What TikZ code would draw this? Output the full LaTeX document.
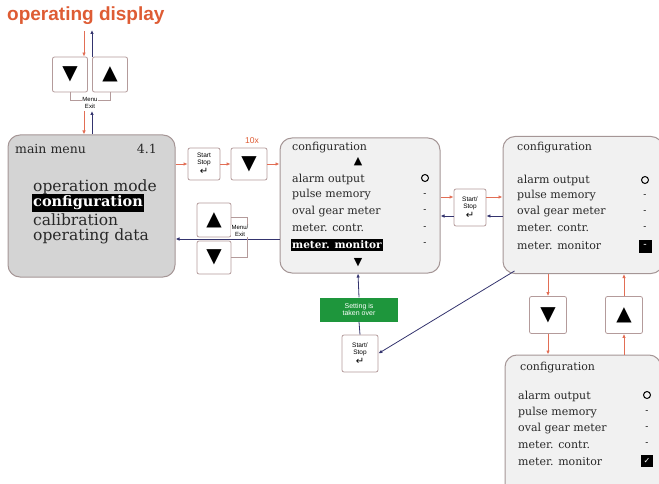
\documentclass[tikz,border=0pt]{standalone}
\usepackage{fontspec}
\setmainfont{DejaVu Serif}
\setsansfont{Liberation Sans}
\newfontfamily\symfont{DejaVu Sans}
\usetikzlibrary{arrows.meta}
\definecolor{dispred}{RGB}{222,92,52}
\definecolor{arrred}{RGB}{226,110,85}
\definecolor{arrblue}{RGB}{52,52,110}
\definecolor{panelgray}{RGB}{212,212,212}
\definecolor{panellight}{RGB}{241,241,241}
\definecolor{panelline}{RGB}{165,150,150}
\definecolor{keyline}{RGB}{180,155,155}
\definecolor{takegreen}{RGB}{30,150,60}
\definecolor{inktext}{RGB}{40,40,40}
\newcommand\dntri[1][20]{{\symfont\fontsize{#1}{#1}\selectfont ▼}}
\newcommand\uptri[1][20]{{\symfont\fontsize{#1}{#1}\selectfont ▲}}
\newcommand\enterkey{{\symfont\fontsize{10}{10}\selectfont ↵}}
\tikzset{
  panel/.style={draw=panelline, line width=1pt, rounded corners=12pt, fill=panellight},
  key/.style={draw=keyline, line width=0.8pt, rounded corners=2pt, fill=white,
    minimum width=35pt, minimum height=35pt, inner sep=0pt},
  startkey/.style={key, font=\sffamily\fontsize{6.5}{7}\selectfont, align=center},
  keytag/.style={fill=white, inner sep=0.5pt, align=center, font=\sffamily\fontsize{6}{6.5}\selectfont},
  item/.style={anchor=west, inner sep=0pt, text=inktext, font=\fontsize{11}{12}\selectfont},
  mainitem/.style={anchor=west, inner sep=0pt, text=inktext, font=\fontsize{15.5}{16}\selectfont},
  marked/.style={fill=black, text=white, inner sep=1.5pt},
  onoff/.style={circle, draw, line width=1pt, minimum size=7pt, inner sep=0pt},
  dashmark/.style={inner sep=0pt, font=\fontsize{9}{9}\selectfont},
  boxmark/.style={fill=black, text=white, minimum size=13pt, inner sep=0pt},
  fwd/.style={draw=arrred, line width=0.8pt, -{Latex[length=4pt,width=3.5pt]}},
  back/.style={draw=arrblue, line width=0.8pt, -{Latex[length=4pt,width=3.5pt]}}
}

\begin{document}
\begin{tikzpicture}[x=1pt,y=-1pt]
\useasboundingbox (0,0) rectangle (659,484);

% operating display and its keys
\node[anchor=west, inner sep=0pt, text=dispred, font=\sffamily\bfseries\fontsize{19}{19}\selectfont] (disp) at (7,16) {operating display};
\node[key] (tdn) at (70,74.5) {\dntri};
\node[key] (tup) at (110,74.5) {\uptri};
\draw[keyline, line width=0.8pt] (tdn.south) -- ++(0,8) -| (tup.south);
\node[keytag] (tmenu) at (90,103) {Menu\\Exit};
\coordinate (dispin) at (84,31);
\coordinate (dispout) at (92,30);
\coordinate (menuin) at (84,111);
\coordinate (menuout) at (92,111);
\draw[fwd] (dispin) -- (dispin |- tdn.north);
\draw[back] (tup.north -| dispout) -- (dispout);

% main menu
\node[panel, fill=panelgray, minimum width=167pt, minimum height=142pt] (mainmenu) at (91.5,206) {};
\draw[fwd] (menuin) -- (menuin |- mainmenu.north);
\draw[back] (menuout |- mainmenu.north) -- (menuout);
\node[item, font=\fontsize{12.5}{13}\selectfont] (mmtitle) at (15,149) {main menu};
\node[item, anchor=east, font=\fontsize{12.5}{13}\selectfont] (mmno) at (157,149) {4.1};
\node[mainitem] (mm1) at (33,187) {operation mode};
\node[mainitem, marked, font=\bfseries\fontsize{14.5}{16}\selectfont] (mm2) at (31.5,203) {configuration};
\node[mainitem] (mm3) at (33,220) {calibration};
\node[mainitem] (mm4) at (33,236) {operating data};

% into configuration
\node[startkey, minimum width=32pt, minimum height=32pt] (ss1) at (204,164) {Start\\Stop\\[1pt]\enterkey};
\node[key, minimum width=36pt, minimum height=32pt] (dn1) at (249,164) {\dntri};
\node[text=dispred, font=\sffamily\fontsize{8.5}{8.5}\selectfont] (times) at (252,141) {10x};

% configuration, selection
\node[panel, minimum width=160pt, minimum height=135pt] (cfg2) at (360,205.5) {};
\draw[fwd] (mainmenu.east |- ss1) -- (ss1.west);
\draw[fwd] (ss1) -- (dn1);
\draw[fwd] (dn1) -- (cfg2.west |- dn1);
\node[item] (c2t) at (292,148) {configuration};
\node[inner sep=0pt] (c2up) at (358,162) {\uptri[11]};
\node[item] (c21) at (292,179) {alarm output};
\node[item] (c22) at (292,195) {pulse memory};
\node[item] (c23) at (292,212) {oval gear meter};
\node[item] (c24) at (292,228) {meter. contr.};
\node[item, marked, font=\bfseries\fontsize{10.5}{12}\selectfont] (c25) at (290.5,245) {meter. monitor};
\node[onoff] (c2s1) at (425,178) {};
\node[dashmark] (c2s2) at (425,195) {-};
\node[dashmark] (c2s3) at (425,211) {-};
\node[dashmark] (c2s4) at (425,228) {-};
\node[dashmark] (c2s5) at (425,244) {-};
\node[inner sep=0pt] (c2dn) at (358,263) {\dntri[11]};

% back to main menu
\coordinate (cfgback) at (0,239);
\draw[back] (cfg2.west |- cfgback) -- (mainmenu.east |- cfgback);
\node[key, minimum width=34pt, minimum height=34pt] (up2) at (214,220) {\uptri};
\node[key, minimum width=34pt, minimum height=33pt] (dn2) at (214,257.5) {\dntri};
\draw[keyline, line width=0.8pt] (up2.east |- 0,217) -- (247,217) -- (247,257) -- (dn2.east |- 0,257);
\node[keytag] (smenu) at (240,231) {Menu/\\Exit};

% configuration, set value
\node[panel, minimum width=160pt, minimum height=137pt] (cfg3) at (583,205) {};
\node[startkey, minimum width=32pt, minimum height=37pt] (ss2) at (470,207.5) {Start/\\Stop\\[1pt]\enterkey};
\coordinate (setfwd) at (0,197);
\coordinate (setback) at (0,216);
\draw[fwd] (cfg2.east |- setfwd) -- (ss2.west |- setfwd);
\draw[fwd] (ss2.east |- setfwd) -- (cfg3.west |- setfwd);
\draw[back] (cfg3.west |- setback) -- (ss2.east |- setback);
\draw[back] (ss2.west |- setback) -- (cfg2.east |- setback);
\node[item] (c3t) at (517,148) {configuration};
\node[item] (c31) at (517,180) {alarm output};
\node[item] (c32) at (517,196) {pulse memory};
\node[item] (c33) at (517,212) {oval gear meter};
\node[item] (c34) at (517,228) {meter. contr.};
\node[item] (c35) at (517,246) {meter. monitor};
\node[onoff] (c3s1) at (645,180) {};
\node[dashmark] (c3s2) at (645,196) {-};
\node[dashmark] (c3s3) at (645,212) {-};
\node[dashmark] (c3s4) at (645,228) {-};
\node[boxmark] (c3s5) at (645,246) {-};

% keys between the two views
\node[key, minimum width=37pt, minimum height=37pt] (dn3) at (548,315) {\dntri};
\node[key, minimum width=37pt, minimum height=37pt] (up3) at (624,315) {\uptri};

% configuration, value changed
\node[panel, minimum width=156pt, minimum height=140pt] (cfg4) at (583,425) {};
\draw[fwd] (cfg3.south -| dn3) -- (dn3.north);
\draw[fwd] (dn3.south) -- (cfg4.north -| dn3);
\draw[fwd] (cfg4.north -| up3) -- (up3.south);
\draw[fwd] (up3.north) -- (cfg3.south -| up3);
\node[item] (c4t) at (520,368) {configuration};
\node[item] (c41) at (518,396) {alarm output};
\node[item] (c42) at (518,413) {pulse memory};
\node[item] (c43) at (518,429) {oval gear meter};
\node[item] (c44) at (518,445) {meter. contr.};
\node[item] (c45) at (518,462) {meter. monitor};
\node[onoff] (c4s1) at (647,395) {};
\node[dashmark] (c4s2) at (647,412) {-};
\node[dashmark] (c4s3) at (647,428) {-};
\node[dashmark] (c4s4) at (647,444) {-};
\node[boxmark, minimum size=12pt] (c4s5) at (647,461) {{\symfont\fontsize{8}{8}\selectfont ✓}};

% store the setting
\node[fill=takegreen, text=white, align=center, minimum width=78pt, minimum height=24pt, inner sep=0pt,
  font=\sffamily\fontsize{7}{7.5}\selectfont] (take) at (359,309.5) {Setting is\\taken over};
\node[startkey, minimum width=36pt, minimum height=37pt] (ss3) at (360,353.5) {Start/\\Stop\\[1pt]\enterkey};
\draw[back] (take.north) -- (c2dn |- cfg2.south);
\draw[arrblue, line width=0.8pt] (take.south) -- (ss3.north);
\draw[back] ([xshift=12pt,yshift=3pt]cfg3.south west) -- (ss3.east);
\end{tikzpicture}
\end{document}
